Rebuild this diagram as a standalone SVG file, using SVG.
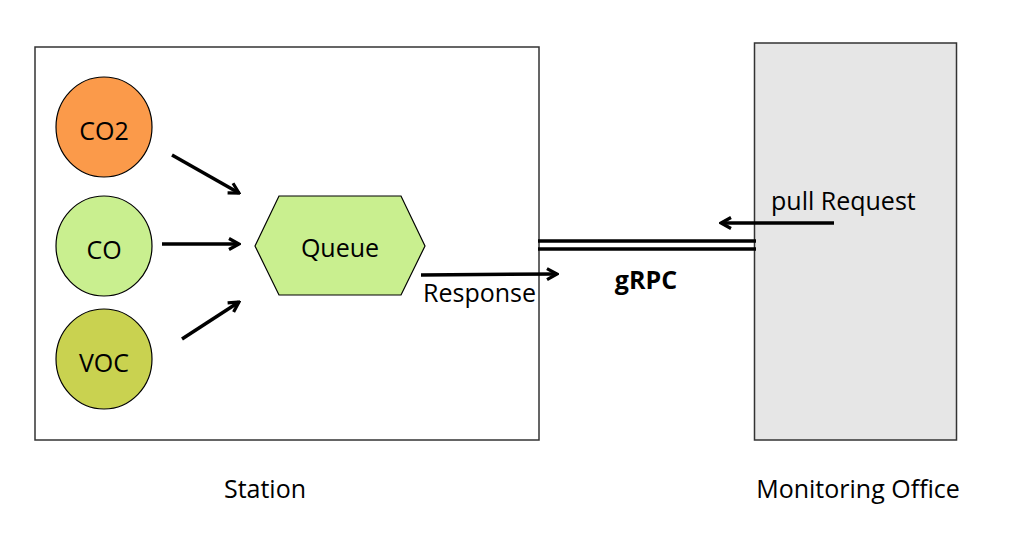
<svg xmlns="http://www.w3.org/2000/svg" width="1011" height="533" viewBox="0 0 1011 533">
<defs>
<marker id="ah" viewBox="0 0 14 14" refX="12" refY="7" markerWidth="14" markerHeight="14" markerUnits="userSpaceOnUse" orient="auto">
<path d="M2,1.5 L12,7 L2,12.5" fill="none" stroke="#000" stroke-width="3.2"/>
</marker>
<style>
text{font-family:"Open Sans","Noto Sans",sans-serif;font-size:25px;fill:#000}
.c{text-anchor:middle}
.box{stroke:#333;stroke-width:1.5}
.shape{stroke:#000;stroke-width:1.2}
.arr{stroke:#000;stroke-width:3.5;fill:none;marker-end:url(#ah)}
.ln{stroke:#000;stroke-width:3.5;fill:none}
</style>
</defs>
<g id="station">
<rect class="box" x="35" y="47" width="504" height="393" fill="#fff"/>
<text class="c" x="265" y="498">Station</text>
</g>
<g id="office">
<rect class="box" x="754.5" y="43" width="202" height="397" fill="#e6e6e6"/>
<text class="c" x="858" y="498">Monitoring Office</text>
</g>
<g id="co2">
<ellipse class="shape" cx="104" cy="127" rx="48" ry="50" fill="#fb9a4a"/>
<text class="c" x="104" y="140">CO2</text>
</g>
<g id="co">
<ellipse class="shape" cx="104" cy="246" rx="48" ry="50" fill="#c9ef8f"/>
<text class="c" x="104" y="259">CO</text>
</g>
<g id="voc">
<ellipse class="shape" cx="104" cy="359" rx="48" ry="50" fill="#c9d250"/>
<text class="c" x="104" y="372">VOC</text>
</g>
<g id="queue">
<polygon class="shape" points="255,246 279,196 401,196 425,246 401,295 279,295" fill="#c9ef8f"/>
<text class="c" x="340" y="257">Queue</text>
</g>
<g id="connectors">
<line class="arr" x1="172" y1="155" x2="239" y2="193"/>
<line class="arr" x1="162" y1="244" x2="239" y2="244"/>
<line class="arr" x1="182" y1="339" x2="239" y2="302"/>
<line class="arr" x1="421" y1="275" x2="557" y2="274"/>
<line class="ln" x1="538" y1="241" x2="756" y2="241"/>
<line class="ln" x1="538" y1="249" x2="756" y2="249"/>
<line class="arr" x1="834" y1="223" x2="721" y2="223"/>
<text x="423" y="302">Response</text>
<text class="c" x="646" y="289" font-weight="bold">gRPC</text>
<text x="771" y="210">pull Request</text>
</g>
</svg>
